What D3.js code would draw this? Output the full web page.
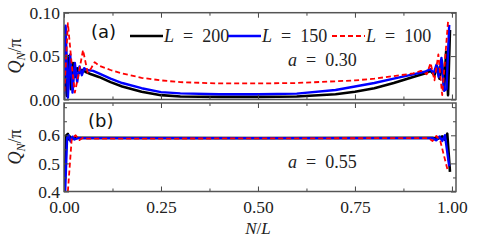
<!DOCTYPE html>
<html>
<head>
<meta charset="utf-8">
<script src="https://cdn.jsdelivr.net/npm/d3@7"></script>
<style>
  body { margin: 0; background: #fff; }
  svg { display: block; }
  .tick text { font-family: "Liberation Serif", serif; font-size: 17.5px; fill: #222; }
  .tick line { stroke: #444; stroke-width: 1; }
</style>
</head>
<body>
<svg id="chart" width="480" height="240"></svg>
<script>
// series: [N/L, Q_N/pi]
const seriesLabels = ['200', '150', '100'];
const seriesColors = ['#000000', '#0000ff', '#ff0000'];

const topL200 = [[0,0],[0.003,0.083],[0.008,0.004],[0.013,0.050],[0.018,0.012],[0.023,0.042],[0.028,0.026],[0.034,0.036],[0.040,0.031],[0.047,0.034],[0.055,0.032],[0.07,0.029],[0.09,0.026],[0.12,0.020],[0.15,0.015],[0.2,0.009],[0.25,0.005],[0.3,0.0035],[0.4,0.003],[0.5,0.003],[0.6,0.0035],[0.7,0.006],[0.75,0.009],[0.8,0.013],[0.85,0.019],[0.9,0.026],[0.93,0.030],[0.945,0.033],[0.955,0.028],[0.962,0.038],[0.968,0.024],[0.974,0.045],[0.98,0.012],[0.985,0.055],[0.99,0.005],[0.995,0.080]];
const topL150 = [[0,0],[0.004,0.085],[0.010,0.002],[0.016,0.052],[0.022,0.008],[0.028,0.042],[0.034,0.020],[0.040,0.038],[0.046,0.028],[0.052,0.036],[0.06,0.034],[0.075,0.033],[0.09,0.030],[0.12,0.024],[0.15,0.019],[0.2,0.013],[0.25,0.0085],[0.3,0.007],[0.4,0.006],[0.5,0.006],[0.6,0.0068],[0.7,0.011],[0.75,0.015],[0.8,0.019],[0.85,0.024],[0.9,0.029],[0.93,0.032],[0.945,0.035],[0.953,0.030],[0.96,0.040],[0.966,0.026],[0.973,0.048],[0.98,0.010],[0.986,0.012],[0.993,0.086]];
const topL100 = [[0,0],[0.01,0.088],[0.02,0.040],[0.028,0.008],[0.038,0.030],[0.049,0.057],[0.061,0.031],[0.07,0.036],[0.079,0.043],[0.09,0.039],[0.12,0.034],[0.15,0.030],[0.2,0.025],[0.25,0.022],[0.3,0.020],[0.4,0.0185],[0.5,0.0185],[0.6,0.019],[0.7,0.021],[0.75,0.022],[0.8,0.024],[0.85,0.027],[0.9,0.030],[0.92,0.033],[0.935,0.029],[0.945,0.042],[0.955,0.022],[0.965,0.052],[0.975,0.005],[0.99,0.090]];

const botL200 = [[0,0.38],[0.006,0.600],[0.010,0.605],[0.013,0.585],[0.016,0.595],[0.020,0.588],[0.03,0.591],[0.5,0.590],[0.95,0.591],[0.965,0.588],[0.975,0.596],[0.982,0.585],[0.988,0.606],[0.995,0.47]];
const botL150 = [[0.003,0.40],[0.008,0.59],[0.012,0.60],[0.017,0.578],[0.022,0.595],[0.027,0.585],[0.035,0.590],[0.5,0.590],[0.95,0.590],[0.96,0.582],[0.968,0.596],[0.975,0.580],[0.982,0.600],[0.993,0.49]];
const botL100 = [[0.01,0.40],[0.02,0.59],[0.03,0.600],[0.04,0.583],[0.05,0.592],[0.06,0.588],[0.5,0.589],[0.94,0.590],[0.95,0.580],[0.96,0.598],[0.97,0.580],[0.99,0.47]];

const xTicks = [0, 0.25, 0.5, 0.75, 1];
const xMinorTicks = [0.125, 0.375, 0.625, 0.875];
const topTicks = [0, 0.05, 0.10];
const topMinorTicks = [0.025, 0.075];
const botTicks = [0.4, 0.5, 0.6];
const botMinorTicks = [0.45, 0.55, 0.65, 0.7];

const svg = d3.select('#chart');
const left = 64, right = 456;

const x = d3.scaleLinear().domain([0, 1.0105]).range([left, right]);
const yTop = d3.scaleLinear().domain([0, 0.1]).range([99.5, 12.7]);
const yBot = d3.scaleLinear().domain([0.4, 0.715]).range([191.5, 103]);

function panel(y, ticks, minor, fmt, series, id, showX) {
  const [y0, y1] = y.range();
  svg.append('clipPath').attr('id', id)
    .append('rect').attr('x', left).attr('y', y1).attr('width', right - left).attr('height', y0 - y1);

  const g = svg.append('g');
  const line = d3.line().x(d => x(d[0])).y(d => y(d[1]));
  const widths = [2.6, 2.4, 1.8];
  const lines = g.append('g').attr('clip-path', `url(#${id})`);
  series.forEach((s, i) => {
    lines.append('path')
      .attr('d', line(s))
      .attr('fill', 'none')
      .attr('stroke', seriesColors[i])
      .attr('stroke-width', widths[i])
      .attr('stroke-linejoin', 'round')
      .attr('stroke-dasharray', i === 2 ? '5,3' : null);
  });

  // inward ticks on all sides
  const add = (axis, tx, ty, labels) => {
    const a = g.append('g').attr('transform', `translate(${tx},${ty})`).call(axis);
    a.select('.domain').remove();
    if (!labels) a.selectAll('text').remove();
    return a;
  };
  add(d3.axisBottom(x).tickValues(xTicks).tickSize(-5).tickPadding(9).tickFormat(d3.format('.2f')), 0, y0, showX);
  add(d3.axisBottom(x).tickValues(xMinorTicks).tickSize(-3), 0, y0, false);
  add(d3.axisTop(x).tickValues(xTicks).tickSize(-5), 0, y1, false);
  add(d3.axisTop(x).tickValues(xMinorTicks).tickSize(-3), 0, y1, false);
  add(d3.axisLeft(y).tickValues(ticks).tickSize(-5).tickPadding(4).tickFormat(fmt), left, 0, true);
  add(d3.axisLeft(y).tickValues(minor).tickSize(-3), left, 0, false);
  add(d3.axisRight(y).tickValues(ticks).tickSize(-5), right, 0, false);
  add(d3.axisRight(y).tickValues(minor).tickSize(-3), right, 0, false);

  g.append('rect')
    .attr('x', left).attr('y', y1)
    .attr('width', right - left).attr('height', y0 - y1)
    .attr('fill', 'none').attr('stroke', '#555').attr('stroke-width', 1.5);
  return g;
}

panel(yTop, topTicks, topMinorTicks, d3.format('.2f'), [topL200, topL150, topL100], 'clipTop', false);
panel(yBot, botTicks, botMinorTicks, d3.format('.1f'), [botL200, botL150, botL100], 'clipBot', true);

// legend
const legend = svg.append('g').attr('font-family', 'Liberation Serif, serif').attr('font-size', 18).attr('fill', '#222');
const legendX = [130, 228, 332];
seriesLabels.forEach((lab, i) => {
  legend.append('line')
    .attr('x1', legendX[i]).attr('x2', legendX[i] + 33)
    .attr('y1', 36).attr('y2', 36)
    .attr('stroke', seriesColors[i])
    .attr('stroke-width', i === 2 ? 1.8 : 2.6)
    .attr('stroke-dasharray', i === 2 ? '5,3' : null);
  const t = legend.append('text').attr('x', legendX[i] + 34).attr('y', 42);
  t.append('tspan').attr('font-style', 'italic').text('L');
  t.append('tspan').text('\u2002=\u2002' + lab);
});

// panel labels
svg.append('text').attr('x', 91).attr('y', 38)
  .attr('font-family', 'DejaVu Sans, sans-serif').attr('font-size', 18).attr('fill', '#111').text('(a)');
svg.append('text').attr('x', 88).attr('y', 127)
  .attr('font-family', 'DejaVu Sans, sans-serif').attr('font-size', 18).attr('fill', '#111').text('(b)');

[['0.30', 66], ['0.55', 168]].forEach(([v, yy]) => {
  const t = svg.append('text').attr('x', 288).attr('y', yy)
    .attr('font-family', 'Liberation Serif, serif').attr('font-size', 18).attr('fill', '#222');
  t.append('tspan').attr('font-style', 'italic').text('a');
  t.append('tspan').text('\u2002=\u2002' + v);
});

// axis titles
[56, 147].forEach(cy => {
  const t = svg.append('text')
    .attr('transform', `translate(21,${cy}) rotate(-90)`)
    .attr('text-anchor', 'middle')
    .attr('font-family', 'Liberation Serif, serif').attr('font-size', 18).attr('fill', '#222');
  t.append('tspan').attr('font-style', 'italic').text('Q');
  t.append('tspan').attr('font-style', 'italic').attr('font-size', 12).attr('dy', 4).text('N');
  t.append('tspan').attr('dy', -4).text('/\u03c0');
});

const xl = svg.append('text').attr('x', 258).attr('y', 234).attr('text-anchor', 'middle')
  .attr('font-family', 'Liberation Serif, serif').attr('font-size', 17).attr('fill', '#222');
xl.append('tspan').attr('font-style', 'italic').text('N');
xl.append('tspan').text('/');
xl.append('tspan').attr('font-style', 'italic').text('L');
</script>
</body>
</html>
